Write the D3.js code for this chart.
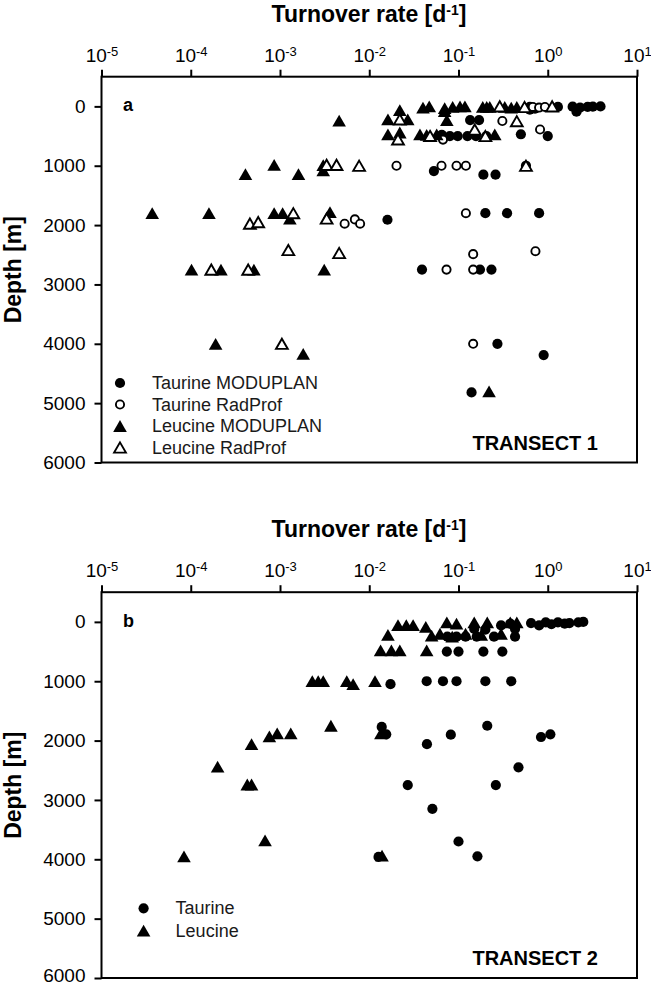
<!DOCTYPE html>
<html>
<head>
<meta charset="utf-8">
<script src="https://cdnjs.cloudflare.com/ajax/libs/d3/7.8.5/d3.min.js"></script>
<style>
  body { margin: 0; background: #fff; }
  svg { display: block; font-family: "Liberation Sans", Arial, sans-serif; }
</style>
</head>
<body>
<div id="corpo"></div>
<script>
// ---- data: [turnover rate (d-1), depth (m)] ----
var t1TaurineModuplan = [
  [0.63,10],[0.63,55],[0.72,40],[1.3,10],[1.9,5],[2.3,20],[2.1,90],[2.8,10],[3.2,5],[3.9,0],
  [0.135,230],[0.17,230],
  [0.065,480],[0.08,500],[0.098,500],[0.126,500],[0.157,500],[0.205,500],[0.5,470],[1.0,500],
  [0.053,1090],[0.19,1150],[0.26,1150],[0.57,1000],
  [0.016,1910],[0.2,1800],[0.35,1800],[0.8,1800],
  [0.039,2750],[0.174,2750],[0.234,2750],
  [0.273,4000],[0.9,4190],[0.14,4820]
];
var t1TaurineRadProf = [
  [0.68,10],[0.8,20],[0.93,10],[0.31,246],[0.82,390],[0.067,560],
  [0.0202,1000],[0.0645,1000],[0.095,1000],[0.121,1000],
  [0.121,1800],[0.0053,1977],[0.0069,1904],[0.0079,1977],
  [0.146,2490],[0.728,2440],[0.0734,2750],[0.146,2750],[0.146,4000]
];
var t1LeucineModuplan = [
  [0.040,20],[0.047,0],[0.07,30],[0.086,10],[0.104,0],[0.118,0],[0.187,10],[0.207,10],
  [0.224,10],[0.33,10],[0.39,20],[0.45,10],
  [0.022,65],[0.07,80],
  [0.0046,240],[0.0162,220],[0.027,220],[0.074,230],
  [0.0162,470],[0.022,440],[0.037,470],[0.044,480],[0.057,470],[0.255,470],
  [4.1e-4,1140],[8.6e-4,985],[1.61e-3,1140],[3.05e-3,990],[3.05e-3,1080],
  [3.7e-5,1800],[1.6e-4,1800],[8.6e-4,1800],[1.07e-3,1800],[1.29e-3,1890],[3.63e-3,1780],
  [1.02e-4,2750],[2.18e-4,2750],[5.1e-4,2750],[3.13e-3,2750],
  [1.9e-4,4000],[1.82e-3,4170],[0.22,4800]
];
var t1LeucineRadProf = [
  [0.29,0],[0.55,10],[1.12,0],[0.022,220],[0.45,250],[0.152,390],[0.021,555],[0.048,498],[0.2,500],
  [3.33e-3,985],[4.3e-3,985],[7.7e-3,1000],[0.57,1000],
  [1.41e-3,1800],[3.33e-3,1890],[4.6e-4,1975],[5.7e-4,1950],
  [1.24e-3,2420],[4.6e-3,2470],[1.7e-4,2750],[4.4e-4,2750],[1.05e-3,4000]
];
var t2Taurine = [
  [0.65,20],[0.8,60],[0.95,10],[1.1,40],[1.3,10],[1.55,30],[1.75,20],[2.2,10],[2.5,0],
  [0.3,60],[0.38,30],[0.43,120],[0.15,120],[0.2,130],
  [0.075,250],[0.095,250],[0.12,250],[0.16,250],[0.25,250],[0.43,250],
  [0.074,500],[0.1,500],[0.19,500],[0.31,500],
  [0.0173,1050],[0.044,1000],[0.067,1000],[0.095,1000],[0.2,1000],[0.39,1000],
  [0.0138,1770],[0.0155,1894],[0.0443,2060],[0.082,1900],[0.21,1750],[0.84,1940],[1.07,1894],
  [0.47,2450],[0.027,2750],[0.262,2750],[0.051,3150],[0.10,3700],[0.0127,3960],[0.163,3950]
];
var t2Leucine = [
  [0.021,55],[0.026,55],[0.031,55],[0.043,85],[0.074,10],[0.095,30],[0.15,10],[0.21,10],[0.38,10],[0.45,10],
  [0.0162,220],[0.05,230],[0.062,200],[0.085,250],[0.12,200],[0.18,220],[0.3,200],
  [0.0134,480],[0.0177,480],[0.022,480],[0.044,480],
  [2.3e-3,1000],[2.68e-3,1000],[3.05e-3,1000],[5.6e-3,1000],[6.6e-3,1050],[0.0116,1000],
  [3.72e-3,1750],[7.6e-4,1930],[9.3e-4,1880],[1.32e-3,1880],[0.0135,1880],
  [4.8e-4,2060],[2.0e-4,2440],[4.3e-4,2740],[4.8e-4,2740],[6.8e-4,3680],[8.4e-5,3950],[0.0139,3940]
];

var xTicks = [1e-5, 1e-4, 1e-3, 1e-2, 1e-1, 1, 10];
var depthTicks = [0, 1000, 2000, 3000, 4000, 5000, 6000];

var width = 651, height = 986;
var svg = d3.select("#corpo").append("svg")
    .attr("width", width)
    .attr("height", height);

var x = d3.scaleLog().domain([1e-5, 10]).range([101.5, 637]);

// marker helpers
function tri(w) {
    var h = w * 0.866;
    return function(d) {
        return "M0," + (-h/2) + "L" + (w/2) + "," + (h/2) + "L" + (-w/2) + "," + (h/2) + "Z";
    };
}

function drawCircles(g, y, data, open) {
    g.selectAll(null).data(data).enter().append("circle")
        .attr("cx", function(d) { return x(d[0]); })
        .attr("cy", function(d) { return y(d[1]); })
        .attr("r", open ? 4.1 : 5.1)
        .attr("fill", open ? "#fff" : "#000")
        .attr("stroke", "#000")
        .attr("stroke-width", open ? 1.9 : 0);
}

function drawTris(g, y, data, open) {
    g.selectAll(null).data(data).enter().append("path")
        .attr("transform", function(d) { return "translate(" + x(d[0]) + "," + y(d[1]) + ")"; })
        .attr("d", tri(open ? 11.8 : 13.6))
        .attr("fill", open ? "#fff" : "#000")
        .attr("stroke", "#000")
        .attr("stroke-width", open ? 1.9 : 0)
        .attr("stroke-linejoin", "miter");
}

function panel(top, letter, transect) {
    var y = d3.scaleLinear().domain([-500, 6000]).range([top, top + 385.8]);
    var g = svg.append("g");

    // title
    var t = g.append("text")
        .attr("x", 369)
        .attr("y", top - 55)
        .attr("text-anchor", "middle")
        .style("font-size", "23px")
        .style("font-weight", "bold")
        .text("Turnover rate [d");
    t.append("tspan").attr("dy", -7).style("font-size", "14px").text("-1");
    t.append("tspan").attr("dy", 7).text("]");

    // y label
    g.append("text")
        .attr("transform", "translate(21," + (top + 193) + ") rotate(-90)")
        .attr("text-anchor", "middle")
        .style("font-size", "23px")
        .style("font-weight", "bold")
        .text("Depth [m]");

    // top axis
    var xa = g.append("g")
        .attr("transform", "translate(0," + top + ")")
        .call(d3.axisTop(x).tickValues(xTicks).tickSize(7).tickPadding(8).tickFormat(""));
    xa.select(".domain").remove();
    xa.selectAll("line").attr("stroke-width", 2);
    xa.selectAll(".tick text").each(function(d) {
        var el = d3.select(this);
        el.style("font-size", "19px").attr("fill", "#000");
        el.append("tspan").text("10");
        el.append("tspan").attr("dy", -6).style("font-size", "13px").text(Math.round(Math.log10(d)));
    });

    // left axis
    var ya = g.append("g")
        .attr("transform", "translate(101.5,0)")
        .call(d3.axisLeft(y).tickValues(depthTicks).tickSize(7).tickPadding(9).tickFormat(d3.format("d")));
    ya.select(".domain").remove();
    ya.selectAll("line").attr("stroke-width", 2);
    ya.selectAll("text").style("font-size", "19px").attr("fill", "#000")
        .attr("dy", function(d) { return (y(d) > 970) ? "0.16em" : "0.32em"; });

    // frame
    g.append("rect")
        .attr("x", 101.5)
        .attr("y", top)
        .attr("width", 637 - 101.5)
        .attr("height", 385.8)
        .attr("fill", "none")
        .attr("stroke", "#000")
        .attr("stroke-width", 2);

    g.append("text")
        .attr("x", 123)
        .attr("y", top + 34.5)
        .style("font-size", "18px")
        .style("font-weight", "bold")
        .text(letter);

    g.append("text")
        .attr("x", 598)
        .attr("y", top + 373)
        .attr("text-anchor", "end")
        .style("font-size", "20px")
        .style("font-weight", "bold")
        .text(transect);

    return {g: g, y: y};
}

///LEGENDA
function legend(g, lx, ly, step, items) {
    items.forEach(function(it, i) {
        var cy = ly + i * step;
        if (it.shape == "circle") {
            g.append("circle").attr("cx", lx).attr("cy", cy)
                .attr("r", it.open ? 4.1 : 5.1)
                .attr("fill", it.open ? "#fff" : "#000")
                .attr("stroke", "#000").attr("stroke-width", it.open ? 1.9 : 0);
        } else {
            g.append("path").attr("transform", "translate(" + lx + "," + cy + ")")
                .attr("d", tri(it.open ? 11.8 : 13.6)())
                .attr("fill", it.open ? "#fff" : "#000")
                .attr("stroke", "#000").attr("stroke-width", it.open ? 1.9 : 0);
        }
        g.append("text")
            .attr("x", lx + 32)
            .attr("y", cy + 6)
            .style("font-size", "18px")
            .attr("fill", "#1a1a1a")
            .text(it.label);
    });
}

// panel a
var pa = panel(76.7, "a", "TRANSECT 1");
drawCircles(pa.g, pa.y, t1TaurineModuplan, false);
drawCircles(pa.g, pa.y, t1TaurineRadProf, true);
drawTris(pa.g, pa.y, t1LeucineModuplan, false);
drawTris(pa.g, pa.y, t1LeucineRadProf, true);
legend(pa.g, 120, 383, 21.5, [
    {shape: "circle", open: false, label: "Taurine MODUPLAN"},
    {shape: "circle", open: true, label: "Taurine RadProf"},
    {shape: "tri", open: false, label: "Leucine MODUPLAN"},
    {shape: "tri", open: true, label: "Leucine RadProf"}
]);

// panel b
var pb = panel(592.2, "b", "TRANSECT 2");
drawCircles(pb.g, pb.y, t2Taurine, false);
drawTris(pb.g, pb.y, t2Leucine, false);
legend(pb.g, 143.6, 908.3, 22.4, [
    {shape: "circle", open: false, label: "Taurine"},
    {shape: "tri", open: false, label: "Leucine"}
]);
</script>
</body>
</html>
